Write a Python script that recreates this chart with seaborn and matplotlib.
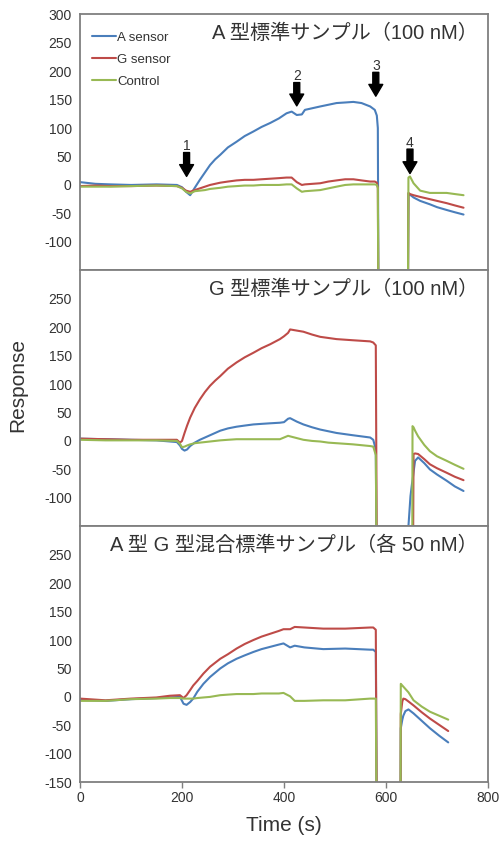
"""
Sensor response curves, three standard samples stacked on one time axis.
"""

import pandas as pd
import matplotlib
matplotlib.use("Agg")
import matplotlib.pyplot as plt
import seaborn as sns


# --- data (time in s, response) ------------------------------------------
# -400 marks the off-scale part between the drop and the return
T1 = [0, 30, 60, 100, 150, 190, 200, 208, 216, 225, 235, 245, 255, 265, 275, 290,
      307, 323, 340, 356, 373, 390, 405, 415, 425, 435, 441, 456, 471, 487, 503, 520,
      536, 552, 569, 578, 582, 584, 586, 642, 644, 647, 654, 667, 686, 700, 719, 735, 752]
A1 = [5, 2, 1, 0, 1, 0, -4, -12, -18, -5, 9, 22, 35, 45, 53, 66,
      76, 86, 94, 102, 109, 117, 126, 129, 123, 124, 132, 135, 138, 141, 144, 145,
      146, 144, 138, 132, 122, 100, -400, -400, -15, -17, -22, -28, -34, -39, -44, -48, -52]
G1 = [-2, -1, -2, -2, -1, -2, -5, -10, -12, -9, -6, -3, 0, 2, 4, 6,
      8, 9, 9, 10, 11, 12, 13, 13, 5, 0, 1, 2, 3, 6, 8, 10,
      10, 8, 6, 6, 4, -5, -400, -400, -14, -16, -18, -21, -25, -28, -32, -36, -40]
C1 = [-3, -3, -3, -2, -1, -2, -6, -12, -15, -11, -10, -9, -7, -6, -5, -3,
      -2, -1, -1, 0, 0, 0, 1, 1, -6, -12, -11, -10, -9, -6, -3, 0,
      1, 1, 1, 1, 0, -5, -400, -400, 13, 15, 3, -10, -14, -14, -14, -16, -18]

T2 = [0, 50, 100, 150, 190, 196, 200, 205, 210, 216, 225, 235, 245, 255, 265, 275,
      290, 307, 323, 340, 356, 373, 392, 400, 408, 412, 425, 438, 455, 471, 487, 503,
      535, 569, 575, 580, 583, 585, 640, 644, 648, 651, 652, 654, 657, 663, 675, 686,
      700, 719, 735, 752]
A2 = [4, 3, 2, 1, -2, -8, -14, -17, -15, -9, -3, 2, 6, 10, 14, 18,
      22, 25, 27, 29, 30, 31, 32, 33, 39, 40, 34, 29, 24, 20, 17, 14,
      10, 6, 2, -15, -400, -400, -400, -150, -97, -75, -70, -55, -35, -29, -39, -50,
      -59, -70, -80, -88]
G2 = [4, 3, 2, 2, 2, -3, 0, 14, 27, 41, 58, 73, 86, 97, 106, 114,
      127, 138, 147, 155, 163, 170, 179, 184, 190, 196, 194, 192, 187, 183, 181, 179,
      177, 175, 173, 168, -400, -400, -400, -400, -400, -400, -400, -23, -22, -23, -32, -41,
      -48, -56, -63, -69]
C2 = [2, 1, 1, 1, 0, -5, -11, -10, -8, -6, -4, -3, -2, -1, 0, 1,
      2, 3, 3, 3, 3, 3, 3, 6, 9, 8, 5, 2, 0, -1, -3, -4,
      -6, -9, -10, -25, -400, -400, -400, -400, -400, -400, 26, 24, 18, 8, -7, -18,
      -27, -35, -42, -49]

T3 = [0, 50, 100, 150, 176, 196, 203, 209, 216, 222, 230, 242, 255, 275, 290, 307,
      323, 340, 356, 373, 390, 399, 412, 421, 440, 477, 520, 569, 575, 580, 583, 585,
      628, 629, 632, 634, 638, 644, 654, 670, 686, 704, 722]
A3 = [-5, -7, -4, -2, -1, 0, -12, -14, -9, -3, 9, 23, 35, 50, 59, 67,
      73, 79, 84, 88, 92, 94, 87, 90, 87, 84, 85, 83, 83, 79, -400, -400,
      -400, -55, -40, -33, -25, -22, -29, -42, -55, -68, -80]
G3 = [-3, -6, -3, -1, 2, 3, -2, 3, 12, 20, 28, 41, 53, 67, 75, 85,
      93, 100, 106, 111, 116, 119, 119, 123, 122, 120, 120, 122, 122, 118, -400, -400,
      -400, -30, -8, -3, -4, -8, -15, -27, -38, -49, -60]
C3 = [-7, -7, -4, -3, -2, -2, -3, -3, -3, -3, -2, -1, 0, 3, 4, 5,
      5, 5, 6, 6, 6, 7, 1, -7, -7, -6, -6, -3, -3, -3, -400, -400,
      -400, 23, 20, 18, 14, 8, -6, -17, -26, -33, -40]

SENSORS = ["A sensor", "G sensor", "Control"]
COULEURS = {"A sensor": "#4A7EBB", "G sensor": "#BE4B48", "Control": "#98B954"}
TITRES = ["A 型標準サンプル（100 nM）",
          "G 型標準サンプル（100 nM）",
          "A 型 G 型混合標準サンプル（各 50 nM）"]
PANELS = [(T1, A1, G1, C1), (T2, A2, G2, C2), (T3, A3, G3, C3)]

# arrows in the first panel: (time, tail, tip, label y)
FLECHES = [(209, 57, 15, 68), (425, 180, 139, 191),
           (580, 198, 156, 209), (647, 63, 20, 74)]

YTICKS = list(range(-150, 301, 50))

sns.set_theme(style="white")
plt.rcParams["font.family"] = ["Liberation Sans", "Noto Sans CJK JP", "DejaVu Sans"]
GRIS = "#7f7f7f"
TEXTE = "#333333"


def to_long(t, a, g, c) -> pd.DataFrame:
    parts = []
    for name, vals in zip(SENSORS, (a, g, c)):
        parts.append(pd.DataFrame({"time": t, "response": vals, "sensor": name}))
    return pd.concat(parts, ignore_index=True)


fig, axes = plt.subplots(3, 1, figsize=(5, 8.42), sharex=True)
fig.subplots_adjust(left=0.16, right=0.976, top=0.983, bottom=0.071, hspace=0)

for i, (ax, data, titre) in enumerate(zip(axes, PANELS, TITRES)):
    df = to_long(*data)
    sns.lineplot(data=df, x="time", y="response", hue="sensor", hue_order=SENSORS,
                 palette=COULEURS, sort=False, estimator=None, linewidth=1.5,
                 legend=(i == 0), ax=ax)
    ax.set_xlim(0, 800)
    ax.set_ylim(-150, 300)
    ax.set_yticks(YTICKS)
    labels = [str(v) for v in YTICKS]
    if i < 2:
        labels[0] = ""
    if i > 0:
        labels[-1] = ""
    ax.set_yticklabels(labels)
    ax.set_xticks([0, 200, 400, 600, 800])
    ax.tick_params(direction="out", length=4, width=1, color=GRIS,
                   labelsize=10, labelcolor=TEXTE, pad=2)
    ax.tick_params(axis="x", bottom=(i == 2))
    for sp in ax.spines.values():
        sp.set_color(GRIS)
        sp.set_linewidth(1.3)
    ax.set_xlabel("")
    ax.set_ylabel("")
    ax.text(0.975, 0.962, titre, transform=ax.transAxes, ha="right", va="top",
            fontsize=14.5, color=TEXTE)

# legende du premier panneau
axes[0].legend(loc="upper left", bbox_to_anchor=(0.0, 0.98), frameon=False,
               fontsize=9.5, handlelength=1.8, handletextpad=0.1,
               labelspacing=0.75, labelcolor=TEXTE)

# fleches numerotees
for k, (t, tail, tip, ylab) in enumerate(FLECHES, start=1):
    axes[0].annotate("", xy=(t, tip), xytext=(t, tail),
                     arrowprops=dict(facecolor="black", edgecolor="black",
                                     width=4.3, headwidth=10, headlength=8.5, shrink=0))
    axes[0].text(t, ylab, str(k), ha="center", va="center", fontsize=10, color=TEXTE)

axes[1].set_ylabel("Response", fontsize=15, color=TEXTE)
axes[1].yaxis.set_label_coords(-0.13, 0.55)
axes[2].set_xlabel("Time (s)", fontsize=15, color=TEXTE, labelpad=8)

plt.savefig("out.png", dpi=100)
plt.close()
